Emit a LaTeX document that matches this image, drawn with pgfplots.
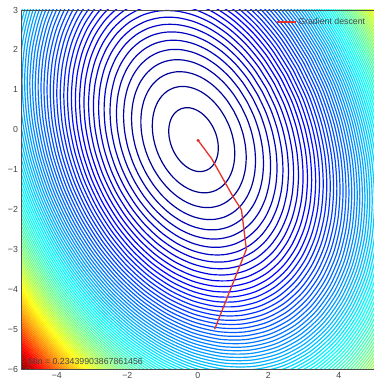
\documentclass[border=0pt]{standalone}
\usepackage{pgfplots}
\pgfplotsset{compat=1.18}
\usepackage{pgfplotstable}
\usepackage{fontspec}
\setmainfont{Liberation Sans}
\definecolor{gdred}{RGB}{228,48,40}
\definecolor{ticktext}{RGB}{70,70,70}
% unit contour of the loss surface's quadratic part, centred on the minimum
\pgfplotstableread{
u v
0.6980 0.4313
0.5863 0.5883
0.4567 0.7277
0.3132 0.8448
0.1603 0.9363
0.0025 0.9992
-0.1555 1.0320
-0.3087 1.0333
-0.4525 1.0032
-0.5825 0.9426
-0.6949 0.8534
-0.7861 0.7383
-0.8535 0.6006
-0.8949 0.4448
-0.9091 0.2755
-0.8958 0.0978
-0.8551 -0.0829
-0.7885 -0.2611
-0.6980 -0.4313
-0.5863 -0.5883
-0.4567 -0.7277
-0.3132 -0.8448
-0.1603 -0.9363
-0.0025 -0.9992
0.1555 -1.0320
0.3087 -1.0333
0.4525 -1.0032
0.5825 -0.9426
0.6949 -0.8534
0.7861 -0.7383
0.8535 -0.6006
0.8949 -0.4448
0.9091 -0.2755
0.8958 -0.0978
0.8551 0.0829
0.7885 0.2611
0.6980 0.4313
}\unitcontour
\pgfplotstableread{
x y
0.48 -5.00
1.38 -3.00
1.24 -2.01
1.00 -1.68
0.39 -0.72
0.01 -0.27
}\gdpath
\begin{document}
\begin{tikzpicture}
\begin{axis}[
  name=ax,
  scale only axis, width=352.5bp, height=359bp,
  xmin=-5, xmax=5, ymin=-6, ymax=3,
  xtick={-4,-2,0,2,4}, xticklabels={−4,−2,0,2,4},
  ytick={-6,-5,-4,-3,-2,-1,0,1,2,3},
  yticklabels={−6,−5,−4,−3,−2,−1,0,1,2,3},
  major tick length=0pt,
  tick label style={font=\fontsize{8.8}{10}\selectfont, text=ticktext},
  axis line style={draw=black!70, line width=0.8pt},
  axis on top,
  colormap/jet,
  legend style={at={(axis description cs:1,0.9666)}, anchor=east, xshift=-6.7bp,
    draw=none, fill=none, inner sep=0pt,
    font=\fontsize{8.8}{10}\selectfont, text=ticktext, cells={anchor=west}},
  legend image code/.code={\draw[#1] (0bp,0bp) -- (19bp,0bp);},
]
\foreach \k in {1,...,106} {
  \pgfmathsetmacro\gv{0.6+(\k-1)*1.07}
  \pgfmathsetmacro\qv{(sqrt(1+0.02*\gv)-1)/0.01}
  \pgfmathsetmacro\sc{sqrt(\qv)}
  \pgfmathsetmacro\clev{\gv/113.6*1000}
  \edef\temp{\noexpand\addplot[forget plot, smooth, line width=1.2pt, color of colormap={\clev}]
    table[x expr=\noexpand\thisrow{u}*\sc-0.12, y expr=\noexpand\thisrow{v}*\sc-0.25] {\noexpand\unitcontour};}
  \temp
}
\addplot[gdred, line width=1.3pt] table[x=x, y=y] {\gdpath};
\addlegendentry{Gradient descent}
\addplot[forget plot, only marks, mark=*, mark size=1.4pt, gdred] coordinates {(0.01,-0.27)};
\node[anchor=base west, font=\fontsize{8.8}{10}\selectfont, text=ticktext, inner sep=0pt]
  at (axis description cs:0.0193,0.0139) {Min = 0.23439903867861456};
\end{axis}
\pgfresetboundingbox
\path[use as bounding box] ([shift={(-21.5bp,-11bp)}]ax.south west) rectangle ([shift={(-1bp,10bp)}]ax.north east);
\end{tikzpicture}
\end{document}
